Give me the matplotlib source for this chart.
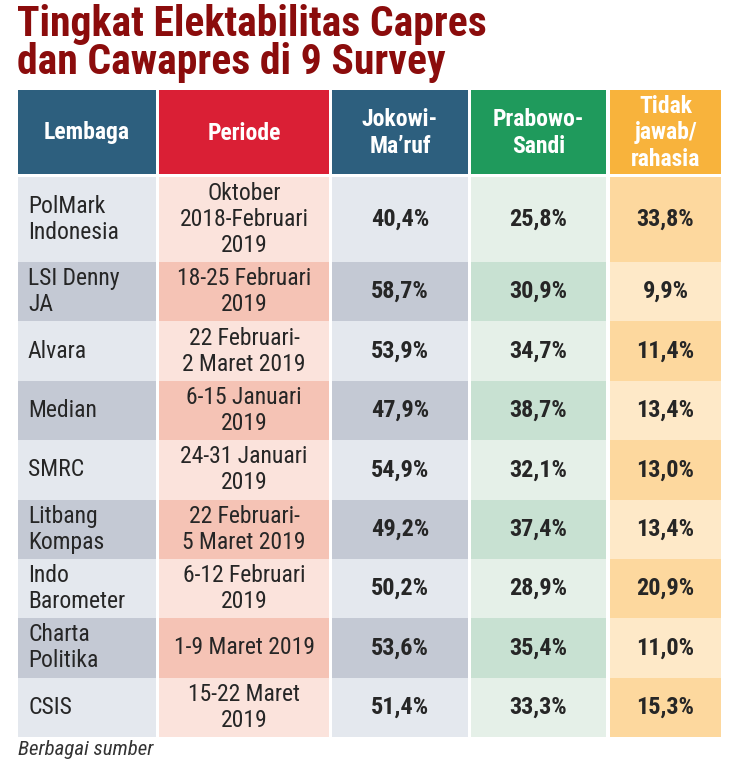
import matplotlib
matplotlib.use("Agg")
import matplotlib.pyplot as plt
from matplotlib.patches import Rectangle
from matplotlib import font_manager

# ---------------- data ----------------
title_lines = ["Tingkat Elektabilitas Capres", "dan Cawapres di 9 Survey"]
headers = ["Lembaga", "Periode", "Jokowi-\nMa\u2019ruf", "Prabowo-\nSandi", "Tidak\njawab/\nrahasia"]
lembaga = ["PolMark\nIndonesia", "LSI Denny\nJA", "Alvara", "Median", "SMRC",
           "Litbang\nKompas", "Indo\nBarometer", "Charta\nPolitika", "CSIS"]
periode = ["Oktober\n2018-Februari\n2019", "18-25 Februari\n2019", "22 Februari-\n2 Maret 2019",
           "6-15 Januari\n2019", "24-31 Januari\n2019", "22 Februari-\n5 Maret 2019",
           "6-12 Februari\n2019", "1-9 Maret 2019", "15-22 Maret\n2019"]
jokowi = ["40,4%", "58,7%", "53,9%", "47,9%", "54,9%", "49,2%", "50,2%", "53,6%", "51,4%"]
prabowo = ["25,8%", "30,9%", "34,7%", "38,7%", "32,1%", "37,4%", "28,9%", "35,4%", "33,3%"]
tidak = ["33,8%", "9,9%", "11,4%", "13,4%", "13,0%", "13,4%", "20,9%", "11,0%", "15,3%"]
source = "Berbagai sumber"

# ---------------- style ----------------
avail = {f.name for f in font_manager.fontManager.ttflist}
FONT = "Liberation Sans"
for cand in ["Roboto Condensed", "Liberation Sans Narrow", "Open Sans Condensed",
             "Noto Sans Condensed", "Arial Narrow"]:
    if cand in avail:
        FONT = cand
        break
plt.rcParams['font.family'] = [FONT, 'DejaVu Sans']

W, H = 736, 783
fig = plt.figure(figsize=(W / 100, H / 100), dpi=100)
ax = fig.add_axes([0, 0, 1, 1])
ax.set_xlim(0, W)
ax.set_ylim(H, 0)
ax.axis("off")

col_edges = [(18, 156), (159, 329), (332, 468), (471, 606), (610, 721)]
head_colors = ["#2D5F7E", "#DA1F35", "#2D5F7E", "#1F9A5C", "#F8B33C"]
light = ["#E4E8EE", "#FBE3DC", "#E4E8EE", "#E5F0E8", "#FDD89E"]
dark = ["#C4C9D4", "#F5C3B5", "#C4C9D4", "#C8E1D2", "#FEE9C8"]

title_color = "#8B0C0C"
text_color = "#262626"

# title
ax.text(17, 36, title_lines[0], fontsize=30, fontweight="bold", color=title_color, va="baseline", ha="left")
ax.text(17, 74, title_lines[1], fontsize=30, fontweight="bold", color=title_color, va="baseline", ha="left")

# header
head_top, head_bot = 90, 174
for j, (x0, x1) in enumerate(col_edges):
    ax.add_patch(Rectangle((x0, head_top), x1 - x0, head_bot - head_top, color=head_colors[j], lw=0))
    ax.text((x0 + x1) / 2, (head_top + head_bot) / 2 + 1, headers[j], ha="center", va="center",
            fontsize=17, fontweight="bold", color="white", linespacing=1.2)

# body rows
row_tops = [177, 262]
n = len(lembaga)
step = (737 - 262) / (n - 1)
for i in range(1, n):
    row_tops.append(262 + i * step)
for i in range(n):
    y0, y1 = row_tops[i], row_tops[i + 1]
    yc = (y0 + y1) / 2
    for j, (x0, x1) in enumerate(col_edges):
        c = light[j] if i % 2 == 0 else dark[j]
        ax.add_patch(Rectangle((x0, y0), x1 - x0, y1 - y0, color=c, lw=0))
    ax.text(col_edges[0][0] + 10, yc, lembaga[i], ha="left", va="center", fontsize=17,
            color=text_color, linespacing=1.16)
    ax.text(sum(col_edges[1]) / 2, yc, periode[i], ha="center", va="center", fontsize=17,
            color=text_color, linespacing=1.16)
    for j, vals in ((2, jokowi), (3, prabowo), (4, tidak)):
        ax.text(sum(col_edges[j]) / 2, yc, vals[i], ha="center", va="center", fontsize=17.5,
                fontweight="bold", color=text_color)

ax.text(18, 755, source, ha="left", va="baseline", fontsize=15, style="italic", color="#333333")

fig.savefig("out.png", dpi=100)
